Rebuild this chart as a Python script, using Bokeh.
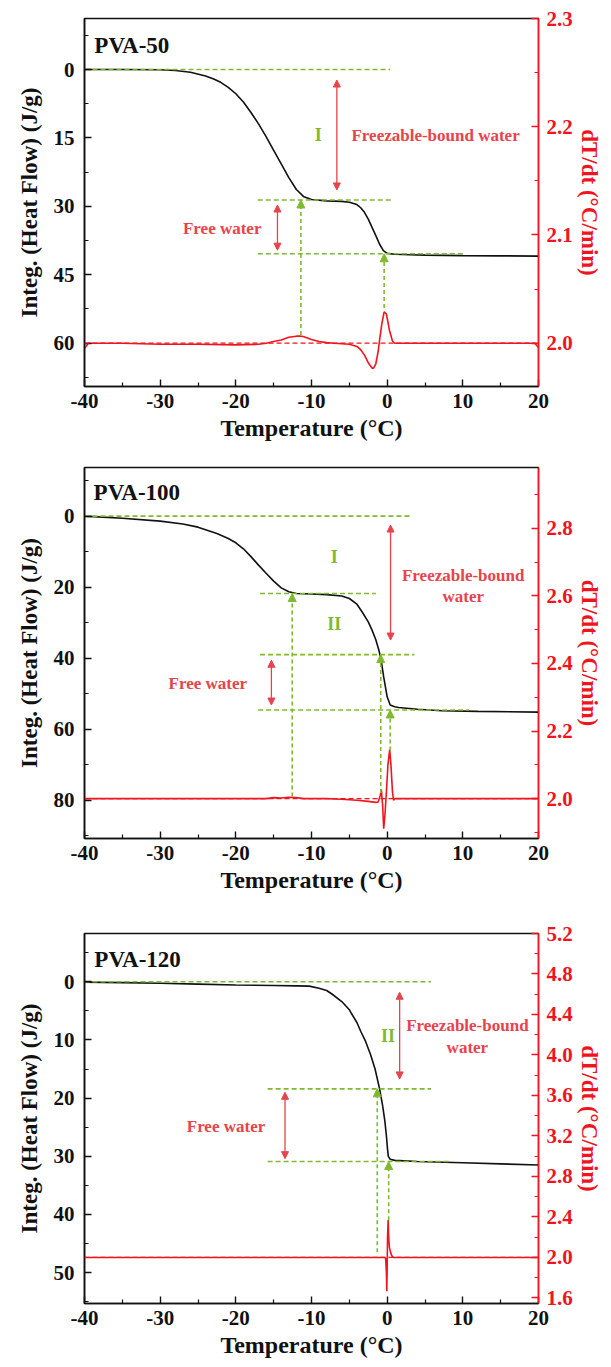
from bokeh.plotting import figure
from bokeh.models import (Range1d, LinearAxis, FixedTicker, Arrow, NormalHead,
                          ColumnDataSource, PrintfTickFormatter, Span)
from bokeh.layouts import column
from bokeh.core.properties import value
from bokeh.embed import file_html
from bokeh.resources import INLINE

# ---------------- data ----------------
X_TICKS = [-40, -30, -20, -10, 0, 10, 20]
X_MINOR = [-35, -25, -15, -5, 5, 15]

# PVA-50
P50_T = [-40, -35, -30, -28, -26, -24, -23, -22, -21, -20, -19, -18, -17, -16, -15, -14, -13, -12, -11, -10,
         -8, -6, -5, -4, -3.5, -3, -2.5, -2, -1.5, -1, -0.5, 0, 1, 3, 5, 10, 15, 20]
P50_HEAT = [0, 0, 0.05, 0.2, 0.6, 1.4, 2.0, 2.8, 3.9, 5.3, 7.1, 9.4, 11.9, 14.7, 17.7, 20.7, 23.7, 26.3, 27.9, 28.5,
            28.8, 28.9, 29.1, 29.6, 30.3, 31.3, 32.8, 34.6, 36.4, 38.3, 39.7, 40.3, 40.5, 40.6, 40.7, 40.8, 40.85, 40.9]
P50_DT_T = [-40, -39.5, -35, -30, -25, -20, -17, -16, -15, -14, -13, -12, -11.5, -11, -10, -9, -8, -7, -5, -4,
            -3.5, -3, -2.5, -2, -1.8, -1.5, -1.2, -1, -0.7, -0.4, -0.1, 0.3, 0.7, 1, 3, 10, 19.5, 20]
P50_DTDT = [1.995, 2.0, 2.0, 1.999, 1.999, 1.9985, 1.999, 2.0, 2.0015, 2.003, 2.0055, 2.0065, 2.0067, 2.006, 2.0035,
            2.0015, 2.0005, 2.0, 1.999, 1.997, 1.994, 1.989, 1.982, 1.977, 1.977, 1.981, 1.992, 2.003, 2.018, 2.029,
            2.027, 2.012, 2.002, 2.0, 2.0, 2.0, 2.0, 1.996]
P50_HL_X0 = [-40, -17.1, -17.1]
P50_HL_X1 = [0.4, 0.6, 10]
P50_HL_Y = [0, 28.6, 40.4]
P50_GA_X = [-11.4, -0.4]
P50_GA_Y0 = [58.2, 52.3]
P50_GA_Y1 = [28.6, 40.4]
P50_RA_X = [-6.65, -14.5]
P50_RA_Y0 = [2.3, 29.7]
P50_RA_Y1 = [26.4, 39.6]
P50_TXT = ["Freezable-bound water", "Free water"]
P50_TXT_X = [6.4, -21.8]
P50_TXT_Y = [14.4, 34.8]
P50_ROM = ["I"]
P50_ROM_X = [-9.1]
P50_ROM_Y = [14.4]
P50_LABEL = ("PVA-50", -38.7, -5.3)
P50_YL = (69.5, -11.2)
P50_YR = (1.96, 2.3)
P50_LTICKS = [0, 15, 30, 45, 60]
P50_LMINOR = [-7.5, 7.5, 22.5, 37.5, 52.5, 67.5]
P50_RTICKS = [2.0, 2.1, 2.2, 2.3]
P50_RMINOR = [2.05, 2.15, 2.25]

# PVA-100
P100_T = [-40, -35, -30, -27, -25, -22.5, -21, -20, -19, -18, -17, -16, -15, -14, -13, -12, -10, -8, -6, -5,
          -4, -3.3, -2.5, -2, -1.5, -1.1, -0.8, -0.46, 0, 0.4, 1, 1.5, 4, 7.2, 12, 20]
P100_HEAT = [0, 0.6, 1.4, 2.2, 3.1, 4.9, 6.3, 7.5, 9.2, 11.4, 13.8, 16.1, 18.3, 20.2, 21.3, 21.8, 21.95, 22.1, 22.5,
             23.2, 24.8, 27.0, 29.8, 32.1, 34.8, 37.7, 40.5, 45.3, 50.9, 53.2, 53.7, 53.9, 54.4, 54.8, 55.0, 55.2]
P100_DT_T = [-40, -30, -20, -16, -15, -14, -13, -12, -11, -8, -6, -4, -2.5, -1.5, -1.2, -0.9, -0.77, -0.6, -0.46,
             -0.3, -0.1, 0.1, 0.33, 0.5, 0.7, 0.85, 1.0, 1.5, 5, 10, 20]
P100_DTDT = [2.0, 2.0, 2.0, 2.0, 2.003, 2.002, 2.004, 2.003, 2.0, 2.0, 1.998, 1.995, 1.992, 1.989, 1.99, 2.01, 2.027,
             1.98, 1.911, 1.95, 2.02, 2.1, 2.145, 2.1, 2.02, 1.995, 2.0, 2.0, 2.0, 2.0, 2.0]
P100_HL_X0 = [-40, -16.8, -16.8, -17.05]
P100_HL_X1 = [3.3, -1.5, 3.6, 10.8]
P100_HL_Y = [0, 21.8, 39.0, 54.6]
P100_GA_X = [-12.55, -0.85, 0.4]
P100_GA_Y0 = [79.0, 78.0, 66.0]
P100_GA_Y1 = [21.8, 39.0, 54.6]
P100_RA_X = [0.45, -15.3]
P100_RA_Y0 = [2.5, 40.6]
P100_RA_Y1 = [34.9, 53.2]
P100_TXT = ["Freezable-bound", "water", "Free water"]
P100_TXT_X = [10.05, 10.05, -23.7]
P100_TXT_Y = [16.6, 22.7, 47.1]
P100_ROM = ["I", "II"]
P100_ROM_X = [-7.0, -7.0]
P100_ROM_Y = [11.5, 30.4]
P100_LABEL = ("PVA-100", -38.8, -6.7)
P100_YL = (90.8, -13.7)
P100_YR = (1.882, 2.98)
P100_LTICKS = [0, 20, 40, 60, 80]
P100_LMINOR = [-10, 10, 30, 50, 70, 90]
P100_RTICKS = [2.0, 2.2, 2.4, 2.6, 2.8]
P100_RMINOR = [1.9, 2.1, 2.3, 2.5, 2.7, 2.9]

# PVA-120
P120_T = [-40, -35, -30, -25, -20, -15, -12, -10.3, -9, -8, -7.3, -6, -5, -4.7, -4, -3.5, -2.9, -2.2, -1.6,
          -1.0, -0.6, -0.3, -0.1, 0.05, 0.15, 0.4, 1.0, 4, 10, 15, 20]
P120_HEAT = [0.05, 0.15, 0.25, 0.4, 0.55, 0.65, 0.7, 0.75, 1.1, 1.5, 2.1, 3.4, 4.8, 5.5, 7.0, 8.5, 10.1, 12.5, 15.0,
             18.4, 21.3, 24.0, 26.5, 28.8, 30.0, 30.5, 30.7, 30.9, 31.1, 31.3, 31.5]
P120_DT_T = [-40, -20, -5, -0.4, -0.2, -0.1, -0.05, 0.0, 0.05, 0.13, 0.2, 0.3, 0.45, 0.6, 0.8, 1.5, 10, 20]
P120_DTDT = [2.0, 2.0, 2.0, 2.0, 1.99, 1.85, 1.665, 1.9, 2.2, 2.37, 2.2, 2.1, 2.05, 2.02, 2.0, 2.0, 2.0, 2.0]
P120_HL_X0 = [-40, -15.8, -15.8]
P120_HL_X1 = [5.8, 5.8, 8.2]
P120_HL_Y = [0, 18.4, 30.9]
P120_GA_X = [-1.31, 0.2]
P120_GA_Y0 = [46.5, 41.0]
P120_GA_Y1 = [18.4, 30.9]
P120_RA_X = [1.65, -13.5]
P120_RA_Y0 = [1.8, 19.0]
P120_RA_Y1 = [16.7, 30.4]
P120_TXT = ["Freezable-bound", "water", "Free water"]
P120_TXT_X = [10.6, 10.6, -21.3]
P120_TXT_Y = [7.55, 11.3, 24.9]
P120_ROM = ["II"]
P120_ROM_X = [0.1]
P120_ROM_Y = [9.35]
P120_LABEL = ("PVA-120", -38.7, -3.9)
P120_YL = (55.3, -8.3)
P120_YR = (1.545, 5.2)
P120_LTICKS = [0, 10, 20, 30, 40, 50]
P120_LMINOR = [-5, 5, 15, 25, 35, 45, 55]
P120_RTICKS = [1.6, 2.0, 2.4, 2.8, 3.2, 3.6, 4.0, 4.4, 4.8, 5.2]
P120_RMINOR = [1.8, 2.2, 2.6, 3.0, 3.4, 3.8, 4.2, 4.6, 5.0]

BASELINE = 2.0

# ---------------- style ----------------
FONT = "Liberation Serif"
BLACK = "#111111"
RED = "#f0141e"
ANN_RED = "#e8434b"
GREEN = "#7fba2e"


def style_axis(ax, color, ticks, minor, fmt, title_size):
    ax.ticker = FixedTicker(ticks=ticks, minor_ticks=minor)
    ax.formatter = PrintfTickFormatter(format=fmt)
    ax.axis_line_color = color
    ax.axis_line_width = 1.6
    ax.major_tick_line_color = color
    ax.minor_tick_line_color = color
    ax.major_tick_line_width = 1.4
    ax.minor_tick_line_width = 1.2
    ax.major_tick_in = 7
    ax.major_tick_out = 0
    ax.minor_tick_in = 4
    ax.minor_tick_out = 0
    ax.major_label_text_font = FONT
    ax.major_label_text_font_style = "bold"
    ax.major_label_text_font_size = "21px"
    ax.major_label_text_color = color
    ax.axis_label_text_font = FONT
    ax.axis_label_text_font_style = "bold"
    ax.axis_label_text_font_size = title_size
    ax.axis_label_text_color = color


def make_panel(height, top, left, right, bottom, yl, yr, lticks, lminor, rticks, rminor,
               heat_t, heat, dt_t, dtdt, hl_x0, hl_x1, hl_y, ga_x, ga_y0, ga_y1,
               ra_x, ra_y0, ra_y1, txt, txt_x, txt_y, rom, rom_x, rom_y, label):
    p = figure(width=611, height=height, output_backend="svg", toolbar_location=None,
               x_range=Range1d(-40, 20), y_range=Range1d(*yl),
               min_border_top=top, min_border_left=left, min_border_right=right,
               min_border_bottom=bottom)
    p.grid.visible = False
    p.outline_line_color = BLACK
    p.outline_line_width = 1.5
    p.background_fill_color = "white"
    p.border_fill_color = "white"
    p.extra_y_ranges = {"r": Range1d(*yr)}

    style_axis(p.xaxis[0], BLACK, X_TICKS, X_MINOR, "%d", "24px")
    p.xaxis[0].axis_label = "Temperature (°C)"
    p.xaxis[0].major_label_standoff = 7
    p.xaxis[0].axis_label_standoff = 4

    style_axis(p.yaxis[0], BLACK, lticks, lminor, "%d", "23px")
    p.yaxis[0].axis_label = "Integ. (Heat Flow) (J/g)"
    p.yaxis[0].major_label_standoff = 10
    p.yaxis[0].axis_label_standoff = 9

    rax = LinearAxis(y_range_name="r")
    style_axis(rax, RED, rticks, rminor, "%.1f", "23px")
    rax.axis_line_width = 1.3
    rax.axis_label = "dT/dt (°C/min)"
    rax.major_label_standoff = 8
    rax.axis_label_standoff = 1
    p.add_layout(rax, "right")

    p.add_layout(Span(location=BASELINE, dimension="width", y_range_name="r",
                      line_color=RED, line_dash="5 3", line_width=1.3))
    p.line(dt_t, dtdt, y_range_name="r", line_color=RED, line_width=1.6)
    p.line(heat_t, heat, line_color=BLACK, line_width=1.6)

    p.segment(x0=hl_x0, x1=hl_x1, y0=hl_y, y1=hl_y, line_color=GREEN, line_width=1.6, line_dash="5 3")

    gsrc = ColumnDataSource(dict(x=ga_x, y0=ga_y0, y1=ga_y1))
    p.add_layout(Arrow(x_start="x", y_start="y0", x_end="x", y_end="y1", source=gsrc,
                       line_color=GREEN, line_width=1.6, line_dash="4 3",
                       end=NormalHead(size=8, fill_color=GREEN, line_color=GREEN, line_width=1)))
    rsrc = ColumnDataSource(dict(x=ra_x, y0=ra_y0, y1=ra_y1))
    p.add_layout(Arrow(x_start="x", y_start="y0", x_end="x", y_end="y1", source=rsrc,
                       line_color=ANN_RED, line_width=1.3,
                       start=NormalHead(size=7, fill_color=ANN_RED, line_color=ANN_RED, line_width=1),
                       end=NormalHead(size=7, fill_color=ANN_RED, line_color=ANN_RED, line_width=1)))

    p.text(x=txt_x, y=txt_y, text=txt, text_font=value(FONT), text_font_style="bold",
           text_font_size="17px", text_color=ANN_RED, text_align="center", text_baseline="middle")
    p.text(x=rom_x, y=rom_y, text=rom, text_font=value(FONT), text_font_style="bold",
           text_font_size="18px", text_color=GREEN, text_align="center", text_baseline="middle")
    p.text(x=[label[1]], y=[label[2]], text=[label[0]], text_font=value(FONT), text_font_style="bold",
           text_font_size="23px", text_color=BLACK, text_align="left", text_baseline="middle")
    return p


p1 = make_panel(448, 18, 84, 69, 62, P50_YL, P50_YR, P50_LTICKS, P50_LMINOR, P50_RTICKS, P50_RMINOR,
                P50_T, P50_HEAT, P50_DT_T, P50_DTDT, P50_HL_X0, P50_HL_X1, P50_HL_Y,
                P50_GA_X, P50_GA_Y0, P50_GA_Y1, P50_RA_X, P50_RA_Y0, P50_RA_Y1,
                P50_TXT, P50_TXT_X, P50_TXT_Y, P50_ROM, P50_ROM_X, P50_ROM_Y, P50_LABEL)
p2 = make_panel(452, 19, 80, 73, 62, P100_YL, P100_YR, P100_LTICKS, P100_LMINOR, P100_RTICKS, P100_RMINOR,
                P100_T, P100_HEAT, P100_DT_T, P100_DTDT, P100_HL_X0, P100_HL_X1, P100_HL_Y,
                P100_GA_X, P100_GA_Y0, P100_GA_Y1, P100_RA_X, P100_RA_Y0, P100_RA_Y1,
                P100_TXT, P100_TXT_X, P100_TXT_Y, P100_ROM, P100_ROM_X, P100_ROM_Y, P100_LABEL)
p3 = make_panel(467, 33, 80, 72, 64, P120_YL, P120_YR, P120_LTICKS, P120_LMINOR, P120_RTICKS, P120_RMINOR,
                P120_T, P120_HEAT, P120_DT_T, P120_DTDT, P120_HL_X0, P120_HL_X1, P120_HL_Y,
                P120_GA_X, P120_GA_Y0, P120_GA_Y1, P120_RA_X, P120_RA_Y0, P120_RA_Y1,
                P120_TXT, P120_TXT_X, P120_TXT_Y, P120_ROM, P120_ROM_X, P120_ROM_Y, P120_LABEL)

layout = column(p1, p2, p3)
open("out.html", "w").write(file_html(layout, INLINE))
